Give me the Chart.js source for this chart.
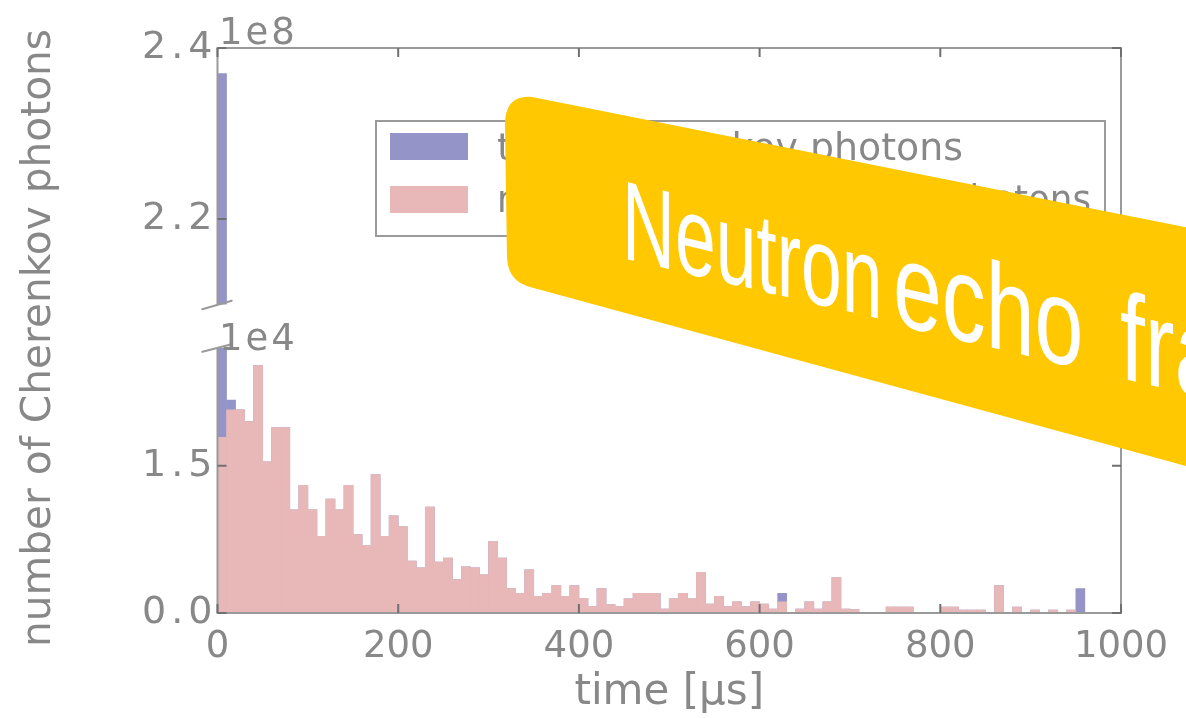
<!DOCTYPE html>
<html>
<head>
<meta charset="utf-8">
<script src="https://cdn.jsdelivr.net/npm/chart.js@4.4.1/dist/chart.umd.min.js"></script>
<style>
  html, body { margin:0; padding:0; background:#fff; width:1186px; height:718px; overflow:hidden; }
  #wrap { position:relative; width:1186px; height:718px; overflow:hidden; }
  #cTop { position:absolute; left:0; top:0; }
  #cBot { position:absolute; left:0; top:310px; }
  #ov { position:absolute; left:0; top:0; }
</style>
</head>
<body>
<div id="wrap">
  <canvas id="cTop" width="1186" height="330"></canvas>
  <canvas id="cBot" width="1186" height="408"></canvas>
  <svg id="ov" width="1186" height="718" font-family="DejaVu Sans">
    <text x="50" y="338" font-size="40.7" fill="#888" text-anchor="middle" transform="rotate(-90 50 338)">number of Cherenkov photons</text>
    <text x="219" y="44" font-size="37" fill="#888" letter-spacing="3">1e8</text>
    <text x="219" y="350" font-size="37" fill="#888" letter-spacing="3">1e4</text>
    <!-- legend -->
    <rect x="376" y="121" width="729" height="115" fill="#fff" stroke="#9a9a9a" stroke-width="2"/>
    <rect x="390" y="133" width="78" height="27" fill="#9494c8"/>
    <rect x="390" y="186" width="78" height="27" fill="#e8b8b8"/>
    <text x="497" y="160" font-size="37" fill="#888" textLength="466" lengthAdjust="spacingAndGlyphs">total Cherenkov photons</text>
    <text x="497" y="212" font-size="37" fill="#888" textLength="594" lengthAdjust="spacingAndGlyphs">neutron echo Cherenkov photons</text>
    <!-- banner -->
    <path d="M 532 97 L 1300 250 L 1300 497 L 530 287 Q 508 281 507 258 L 505 124 Q 505 95 532 97 Z" fill="#ffc800"/>
    <g font-family="Liberation Sans" fill="#fff">
      <text font-size="112" transform="matrix(0.654,0.154,0,1,622,258)">Neutron</text>
      <text font-size="122" transform="matrix(0.72,0.17,0,1,893,324)">echo</text>
      <text font-size="124" transform="matrix(0.72,0.17,0,1,1120,378)">fraction</text>
    </g>
  </svg>
</div>
<script>
// ---- data (10 µs bins) ----
const binCenters = [5,15,25,35,45,55,65,75,85,95,
  105,115,125,135,145,155,165,175,185,195,
  205,215,225,235,245,255,265,275,285,295,
  305,315,325,335,345,355,365,375,385,395,
  405,415,425,435,445,455,465,475,485,495,
  505,515,525,535,545,555,565,575,585,595,
  605,615,625,635,645,655,665,675,685,695,
  705,715,725,735,745,755,765,775,785,795,
  805,815,825,835,845,855,865,875,885,895,
  905,915,925,935,945,955,965,975,985,995];

const echoPhotons = [17900,20700,20700,19500,25200,15400,18900,18900,10500,13000,
  10500,7800,11600,10500,13000,8000,6900,14100,7800,9900,
  8800,5300,4600,10800,5200,5600,3400,4700,4600,3900,
  7300,5600,2500,2000,4400,1700,2000,2800,1700,2800,
  1500,650,2500,850,650,1450,2000,2000,2000,400,
  1450,2000,1450,4150,900,1700,650,1150,650,1150,
  900,400,1150,0,400,1150,400,1150,3600,400,
  350,0,0,0,600,600,600,0,0,0,
  600,600,300,300,300,0,2800,0,600,0,
  300,0,300,0,300,0,0,0,0,0];

const totalPhotons = [237000000,21700,20700,19500,25200,15400,18900,18900,10500,13000,
  10500,7800,11600,10500,13000,8000,6900,14100,7800,9900,
  8800,5300,4600,10800,5200,5600,3400,4700,4600,3900,
  7300,5600,2500,2000,4400,1700,2000,2800,1700,2800,
  1500,650,2500,850,650,1450,2000,2000,2000,400,
  1450,2000,1450,4150,900,1700,650,1150,650,1150,
  900,400,2000,0,400,1150,400,1150,3600,400,
  350,0,0,0,600,600,600,0,0,0,
  600,600,300,300,300,0,2800,0,600,0,
  300,0,300,0,300,2500,0,0,0,0];

const xTicks = [0,200,400,600,800,1000];
const topYTicks = [220000000,240000000];
const botYTicks = [0,15000];

// ---- styles ----
const BLUE = '#9494c8', PINK = '#e8b8b8';
const TXT = '#888888', SPINE = '#9a9a9a', TICK = '#707070';
const TL = 9;
const FONT = 'DejaVu Sans';

function framePlugin(which, yTicks) {
  return {
    id: 'frame_' + which,
    beforeDraw(chart) {
      const s = chart.scales.y;
      if (!s._spaced) {
        const orig = s.drawLabels;
        s.drawLabels = function (area) {
          const c = this.ctx;
          c.save();
          c.letterSpacing = '5px';
          orig.call(this, area);
          c.restore();
        };
        s._spaced = true;
      }
    },
    afterDatasetsDraw(chart) {
      const ctx = chart.ctx, a = chart.chartArea;
      const x = chart.scales.x, y = chart.scales.y;
      ctx.save();
      ctx.lineWidth = 2;
      ctx.strokeStyle = SPINE;
      ctx.beginPath();
      if (which === 'top') {
        ctx.moveTo(a.left, a.bottom); ctx.lineTo(a.left, a.top);
        ctx.lineTo(a.right, a.top); ctx.lineTo(a.right, a.bottom);
      } else {
        ctx.moveTo(a.left, a.top); ctx.lineTo(a.left, a.bottom);
        ctx.lineTo(a.right, a.bottom); ctx.lineTo(a.right, a.top);
      }
      ctx.stroke();
      // break marks
      ctx.beginPath();
      const cy = which === 'top' ? a.bottom : a.top;
      [a.left, a.right].forEach(cx => {
        if (which === 'top') { ctx.moveTo(cx - 16, cy + 5); ctx.lineTo(cx + 15, cy - 4); }
        else { ctx.moveTo(cx - 16, cy + 4); ctx.lineTo(cx + 15, cy - 4); }
      });
      ctx.stroke();
      // inward ticks
      ctx.strokeStyle = TICK;
      ctx.beginPath();
      xTicks.forEach(v => {
        const px = x.getPixelForValue(v);
        if (which === 'top') { ctx.moveTo(px, a.top); ctx.lineTo(px, a.top + TL); }
        else { ctx.moveTo(px, a.bottom); ctx.lineTo(px, a.bottom - TL); }
      });
      yTicks.forEach(v => {
        const py = y.getPixelForValue(v);
        ctx.moveTo(a.left, py); ctx.lineTo(a.left + TL, py);
        ctx.moveTo(a.right, py); ctx.lineTo(a.right - TL, py);
      });
      ctx.stroke();
      ctx.restore();
    }
  };
}

function datasets() {
  return [
    { label: 'neutron echo Cherenkov photons', data: binCenters.map((t, i) => ({ x: t, y: echoPhotons[i] })),
      backgroundColor: PINK, order: 0, clip: 0 },
    { label: 'total Cherenkov photons', data: binCenters.map((t, i) => ({ x: t, y: totalPhotons[i] })),
      backgroundColor: BLUE, order: 1, clip: 0 }
  ];
}

const common = {
  responsive: false, animation: false, events: [],
  plugins: { legend: { display: false }, tooltip: { enabled: false } },
  datasets: { bar: { grouped: false, barPercentage: 1, categoryPercentage: 1, borderWidth: 0 } }
};

const yTickStyle = { padding: 0, color: TXT, font: { family: FONT, size: 38 } };

new Chart(document.getElementById('cTop'), {
  type: 'bar',
  data: { datasets: datasets() },
  options: Object.assign({}, common, {
    layout: { padding: { top: 48, right: 65, bottom: 25.5, left: 0 } },
    scales: {
      x: { type: 'linear', min: 0, max: 1000, offset: false, display: false },
      y: {
        min: 210000000, max: 240000000,
        afterFit(s) { s.width = 217.5; },
        afterBuildTicks(s) { s.ticks = topYTicks.map(v => ({ value: v })); },
        grid: { display: false, drawTicks: false }, border: { display: false },
        ticks: Object.assign({}, yTickStyle, { callback: v => (v / 1e8).toFixed(1) })
      }
    }
  }),
  plugins: [framePlugin('top', topYTicks)]
});

new Chart(document.getElementById('cBot'), {
  type: 'bar',
  data: { datasets: datasets() },
  options: Object.assign({}, common, {
    layout: { padding: { top: 38, right: 65, bottom: 0, left: 0 } },
    scales: {
      x: {
        type: 'linear', min: 0, max: 1000, offset: false,
        afterFit(s) { s.height = 105; },
        afterBuildTicks(s) { s.ticks = xTicks.map(v => ({ value: v })); },
        grid: { display: false, drawTicks: false, offset: false }, border: { display: false },
        ticks: { padding: 12, color: TXT, maxRotation: 0, autoSkip: false, font: { family: FONT, size: 37 },
                 callback: v => String(v) },
        title: { display: true, text: 'time [μs]', color: TXT, font: { family: FONT, size: 42 },
                 padding: { top: 0, bottom: 0 } }
      },
      y: {
        min: 0, max: 27000,
        afterFit(s) { s.width = 217.5; },
        afterBuildTicks(s) { s.ticks = botYTicks.map(v => ({ value: v })); },
        grid: { display: false, drawTicks: false }, border: { display: false },
        ticks: Object.assign({}, yTickStyle, { callback: v => (v / 1e4).toFixed(1) })
      }
    }
  }),
  plugins: [framePlugin('bot', botYTicks)]
});
</script>
</body>
</html>
